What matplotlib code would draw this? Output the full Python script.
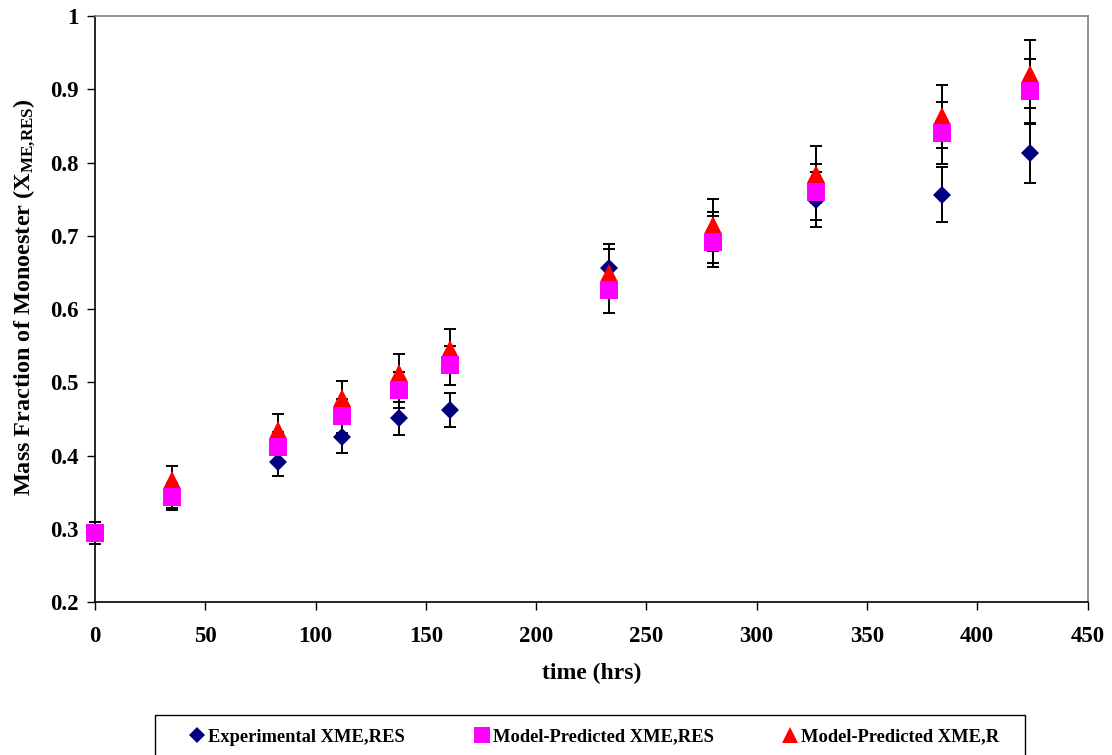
import matplotlib

matplotlib.use("Agg")
import matplotlib.patches as mpatches
import matplotlib.pyplot as plt
import numpy as np

# temps de prélèvement (h) et fractions massiques
TIME_HRS = [0, 35, 83, 112, 138, 161, 233, 280, 327, 384, 424]
EXP_RES = [0.294, 0.345, 0.391, 0.425, 0.451, 0.462, 0.656, 0.697, 0.749, 0.756, 0.813]
MODEL_RES = [0.294, 0.343, 0.412, 0.454, 0.489, 0.523, 0.626, 0.692, 0.760, 0.840, 0.897]
MODEL_R = [0.294, 0.367, 0.435, 0.478, 0.513, 0.545, 0.649, 0.715, 0.784, 0.863, 0.921]
ERR_PCT = 5.0  # barres d'erreur en pourcentage (style Excel)

X_TICKS = list(range(0, 451, 50))
Y_TICKS = [0.2, 0.3, 0.4, 0.5, 0.6, 0.7, 0.8, 0.9, 1.0]
Y_TICK_LABELS = ["0.2", "0.3", "0.4", "0.5", "0.6", "0.7", "0.8", "0.9", "1"]

SERIES = [
    ("Experimental XME,RES", EXP_RES, "D", "#000080", 9.6, 3),
    ("Model-Predicted XME,R", MODEL_R, "^", "#ff0000", 13.5, 4),
    ("Model-Predicted XME,RES", MODEL_RES, "s", "#ff00ff", 13, 5),
]
LEGEND_ORDER = ["Experimental XME,RES", "Model-Predicted XME,RES", "Model-Predicted XME,R"]

plt.rcParams.update({
    "font.family": "Liberation Serif",
    "font.weight": "bold",
    "mathtext.fontset": "custom",
    "mathtext.rm": "Liberation Serif:bold",
    "mathtext.it": "Liberation Serif:bold",
    "mathtext.bf": "Liberation Serif:bold",
})

W, H = 1112, 755
fig = plt.figure(figsize=(W / 100, H / 100), dpi=100)
ax = fig.add_axes([0.0854, 0.2026, 0.8926, 0.7762])

x = np.asarray(TIME_HRS, dtype=float)
handles = {}
for label, values, marker, color, size, z in SERIES:
    y = np.asarray(values)
    eb = ax.errorbar(
        x, y, yerr=y * ERR_PCT / 100.0, fmt="none", ecolor="black",
        elinewidth=1.4, capsize=4.5, capthick=1.4, zorder=2,
    )
    for art in eb.lines[1] + eb.lines[2]:
        art.set_clip_on(False)
    (line,) = ax.plot(
        x, y, ls="none", marker=marker, color=color, markersize=size,
        markeredgewidth=0, zorder=z, label=label, clip_on=False,
    )
    handles[label] = line

ax.set_xlim(0, 450)
ax.set_ylim(0.2, 1.0)
ax.set_xticks(X_TICKS)
ax.set_yticks(Y_TICKS)
ax.set_yticklabels(Y_TICK_LABELS)
ax.tick_params(direction="out", length=6, width=1, labelsize=16.5, pad=6)
for lbl in ax.get_xticklabels() + ax.get_yticklabels():
    lbl.set_fontweight("bold")
ax.tick_params(axis="x", pad=11)

for side in ("left", "bottom"):
    ax.spines[side].set_color("black")
    ax.spines[side].set_linewidth(1.2)
for side in ("top", "right"):
    ax.spines[side].set_color("#808080")
    ax.spines[side].set_linewidth(1.2)

ax.set_xlabel("time (hrs)", fontsize=17, fontweight="bold", labelpad=12)
ax.set_ylabel(r"Mass Fraction of Monoester (X$_{\mathregular{ME{,}RES}}$)",
              fontsize=17.5, fontweight="bold")
ax.yaxis.set_label_coords(-0.058, 0.52)

# cadre de légende dessiné à part (il déborde du bas de la figure)
fig.add_artist(mpatches.Rectangle(
    (155 / W, -0.02), 870 / W, 1 - 715 / H + 0.02, transform=fig.transFigure,
    facecolor="white", edgecolor="black", linewidth=1.0, zorder=1,
))
leg = fig.legend(
    [handles[k] for k in LEGEND_ORDER], LEGEND_ORDER,
    loc="center left", bbox_to_anchor=(191.5 / W, 1 - 737 / H), ncol=3,
    borderaxespad=0, borderpad=0, frameon=False,
    prop={"family": "Liberation Serif", "weight": "bold", "size": 13.3},
    markerscale=0.9, handlelength=0.6, handletextpad=0.3,
    columnspacing=3.85,
)
leg.set_zorder(2)

fig.savefig("out.png", dpi=100, facecolor="white")
